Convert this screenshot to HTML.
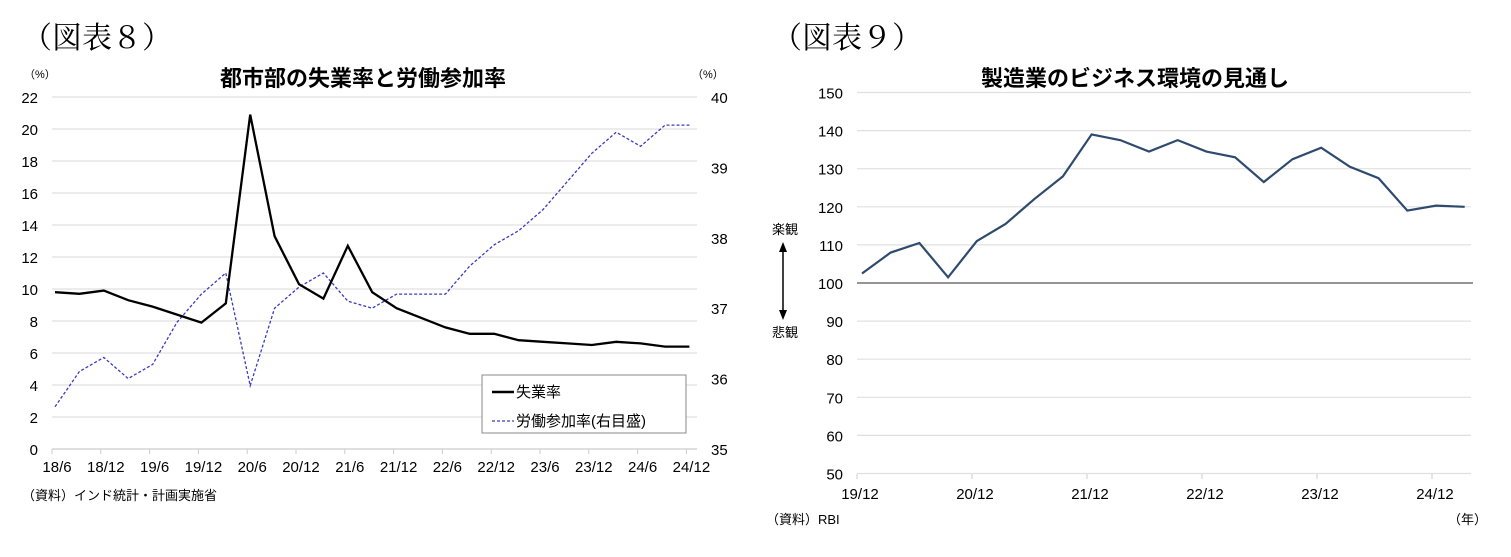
<!DOCTYPE html>
<html><head><meta charset="utf-8"><style>
body{margin:0;background:#fff;width:1511px;height:557px;overflow:hidden}
svg{display:block}
text{font-family:"Liberation Sans","Noto Sans CJK JP",sans-serif;fill:#000}
.ser{font-family:"Liberation Serif","Noto Serif CJK SC",serif}
</style></head><body>
<svg id="s" width="1511" height="557">
<text class="ser" x="22" y="48" font-size="30" fill="#333">（図表８）</text>
<text class="ser" x="772" y="48" font-size="30" fill="#333">（図表９）</text>
<text x="363" y="86" font-size="22" font-weight="bold" text-anchor="middle">都市部の失業率と労働参加率</text>
<text x="1135" y="86" font-size="22" font-weight="bold" text-anchor="middle">製造業のビジネス環境の見通し</text>
<text x="24" y="78" font-size="11">（%）</text>
<text x="692" y="78" font-size="11">（%）</text>
<g id="L"></g><g id="R"></g>
<text x="22" y="500" font-size="13">（資料）インド統計・計画実施省</text>
<text x="766" y="524" font-size="13">（資料）RBI</text>
<text x="1448" y="524" font-size="13">（年）</text>
<text x="785" y="234" font-size="13" text-anchor="middle">楽観</text>
<text x="785" y="337" font-size="13" text-anchor="middle">悲観</text>
<g>
<line x1="783" y1="250" x2="783" y2="312" stroke="#000" stroke-width="1.5"/>
<polygon points="783,242 779,252 787,252" fill="#000"/>
<polygon points="783,320 779,310 787,310" fill="#000"/>
</g>
<g>
<rect x="482" y="375" width="204" height="58" fill="#fff" stroke="#888"/>
<line x1="492" y1="392" x2="514" y2="392" stroke="#000" stroke-width="2.5"/>
<text x="516" y="397" font-size="15">失業率</text>
<line x1="492" y1="421" x2="514" y2="421" stroke="#3b3bc0" stroke-width="1.3" stroke-dasharray="3,2"/>
<text x="516" y="426" font-size="15">労働参加率(右目盛)</text>
</g>
</svg>
<script>
const NS="http://www.w3.org/2000/svg";
const leftCats=["18/6","18/9","18/12","19/3","19/6","19/9","19/12","20/3","20/6","20/9","20/12","21/3","21/6","21/9","21/12","22/3","22/6","22/9","22/12","23/3","23/6","23/9","23/12","24/3","24/6","24/9","24/12"];
const unemp=[9.8,9.7,9.9,9.3,8.9,8.4,7.9,9.1,20.9,13.3,10.3,9.4,12.7,9.8,8.8,8.2,7.6,7.2,7.2,6.8,6.7,6.6,6.5,6.7,6.6,6.4,6.4];
const lfpr=[35.6,36.1,36.3,36.0,36.2,36.8,37.2,37.5,35.9,37.0,37.3,37.5,37.1,37.0,37.2,37.2,37.2,37.6,37.9,38.1,38.4,38.8,39.2,39.5,39.3,39.6,39.6];
const leftTicks=[0,2,4,6,8,10,12,14,16,18,20,22];
const rightTicks=[35,36,37,38,39,40];
const rCats=["19/12","20/3","20/6","20/9","20/12","21/3","21/6","21/9","21/12","22/3","22/6","22/9","22/12","23/3","23/6","23/9","23/12","24/3","24/6","24/9","24/12","25/3"];
const outlook=[102.5,108,110.5,101.5,111,115.5,122,128,139,137.5,134.5,137.5,134.5,133,126.5,132.5,135.5,130.5,127.5,119,120.3,120];
const outTicks=[50,60,70,80,90,100,110,120,130,140,150];
const yearLabels=["19/12","20/12","21/12","22/12","23/12","24/12"];

function mk(p,t,a,txt){const e=document.createElementNS(NS,t);for(const k in a)e.setAttribute(k,a[k]);if(txt!=null)e.textContent=txt;p.appendChild(e);return e;}
// left chart
const L=document.getElementById('L');
const lx=i=>55+i*24.4, ly=v=>449-v*16, ry=v=>449-(v-35)*70.4;
leftTicks.forEach(v=>{
 const g=mk(L,'line',{x1:52,x2:697,y1:ly(v),y2:ly(v),stroke:v===0?'#ccc':'#e0e0e0','stroke-width':1.2});
 
 
 const t=mk(L,'text',{x:38,y:ly(v)+6,'font-size':15,'text-anchor':'end'},v);
 
 
});
rightTicks.forEach(v=>{
 const t=mk(L,'text',{x:711,y:ry(v)+6,'font-size':15},v);
 
 
});
leftCats.forEach((c,i)=>{
 if(i%2)return;
 const tk=mk(L,'line',{x1:lx(i)-3,x2:lx(i)-3,y1:449,y2:454,stroke:'#ccc'});
 
 
 const t=mk(L,'text',{x:lx(i)+2,y:472,'font-size':15,'text-anchor':'middle'},c);
 
 
});
const p2=mk(L,'polyline',{points:lfpr.map((v,i)=>lx(i)+','+ry(v)).join(' '),fill:'none',stroke:'#3b3bc0','stroke-width':1.3,'stroke-dasharray':'3,2'});


const p1=mk(L,'polyline',{points:unemp.map((v,i)=>lx(i)+','+ly(v)).join(' '),fill:'none',stroke:'#000','stroke-width':2.3});


// right chart
const R=document.getElementById('R');
const ox=i=>862+i*28.7, oy=v=>283-(v-100)*3.81;
outTicks.forEach(v=>{
 const g=mk(R,'line',{x1:857,x2:v===100?1473:1471,y1:oy(v),y2:oy(v),stroke:v===100?'#555':'#e0e0e0','stroke-width':v===100?1.2:1.2});
 
 
 const t=mk(R,'text',{x:843,y:oy(v)+6,'font-size':15,'text-anchor':'end'},v);
 
 
});
yearLabels.forEach((c,k)=>{
 const x=857+k*115;
 const tk=mk(R,'line',{x1:x,x2:x,y1:474,y2:479,stroke:'#ccc'});
 
 
 const t=mk(R,'text',{x:x+3,y:499,'font-size':15,'text-anchor':'middle'},c);
 
 
});
const p3=mk(R,'polyline',{points:outlook.map((v,i)=>ox(i)+','+oy(v)).join(' '),fill:'none',stroke:'#2e4a6e','stroke-width':2.2});


</script>
</body></html>
